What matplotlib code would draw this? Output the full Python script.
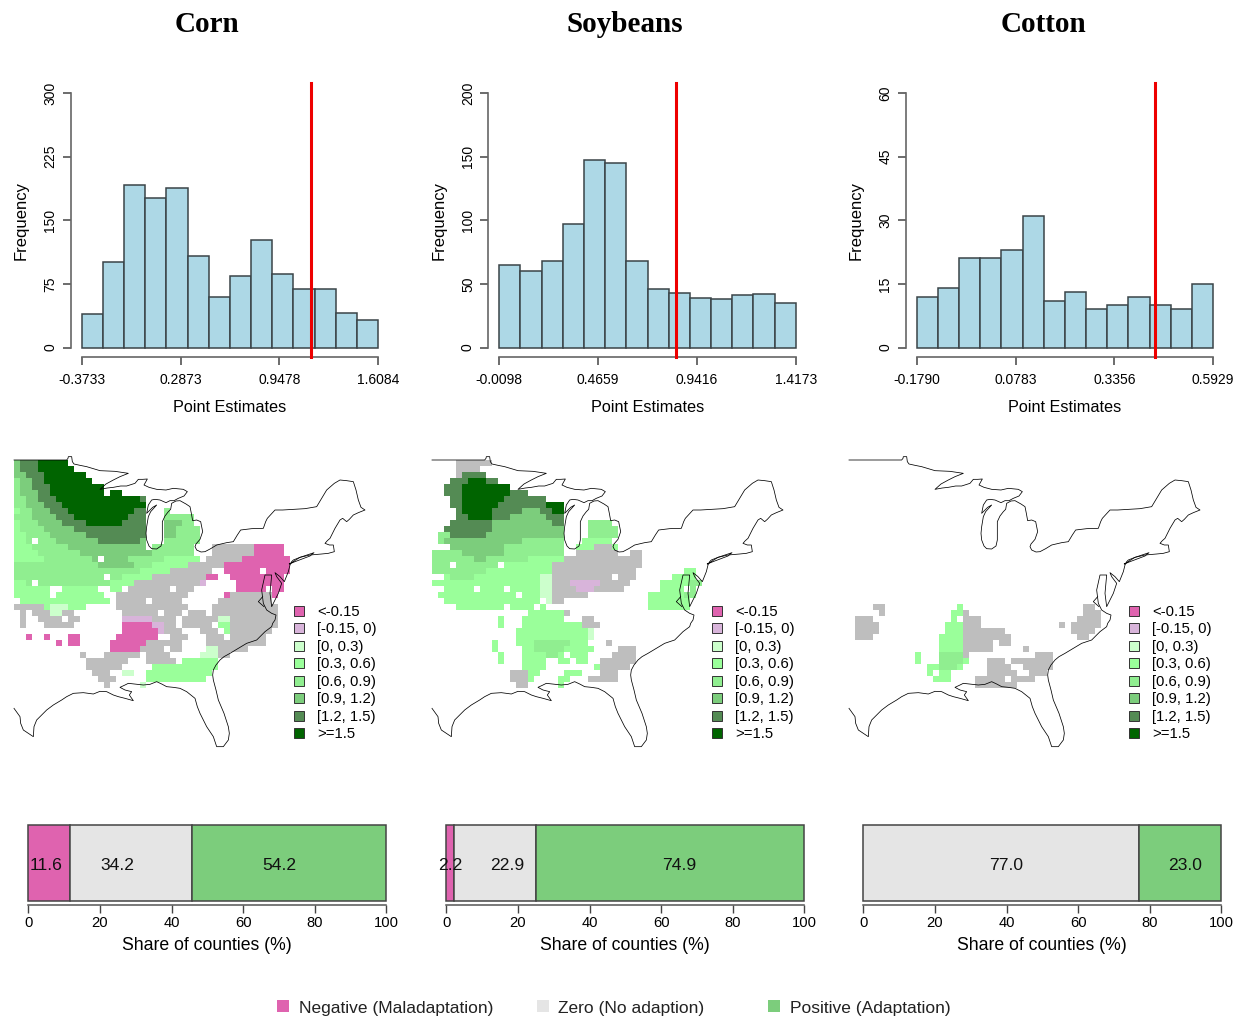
import matplotlib
matplotlib.use("Agg")
import numpy as np
import matplotlib.pyplot as plt
from matplotlib.colors import ListedColormap
from matplotlib.patches import Patch, Rectangle

plt.rcParams['font.family'] = ['Liberation Sans', 'DejaVu Sans']

W, H = 1238, 1018

# === data ===

crops = ["Corn", "Soybeans", "Cotton"]

corn_hist = [40, 101, 191, 176, 188, 108, 60, 84, 127, 87, 69, 69, 41, 32]
soy_hist = [65, 60, 68, 97, 147, 145, 68, 46, 43, 39, 38, 41, 42, 35]
cotton_hist = [12, 14, 21, 21, 23, 31, 11, 13, 9, 10, 12, 10, 9, 15]

corn_ticks = [-0.3733, 0.2873, 0.9478, 1.6084]
soy_ticks = [-0.0098, 0.4659, 0.9416, 1.4173]
cotton_ticks = [-0.1790, 0.0783, 0.3356, 0.5929]

corn_yticks = [0, 75, 150, 225, 300]
soy_yticks = [0, 50, 100, 150, 200]
cotton_yticks = [0, 15, 30, 45, 60]

red_lines = [1.162, 0.840, 0.442]

share_names = ["Negative (Maladaptation)", "Zero (No adaption)", "Positive (Adaptation)"]
corn_share = [11.6, 34.2, 54.2]
soy_share = [2.2, 22.9, 74.9]
cotton_share = [0.0, 77.0, 23.0]
share_label_x = [[5, 25, 70], [1, 17, 65], [None, 40, 90]]

legend_labels = ["<-0.15", "[-0.15, 0)", "[0, 0.3)", "[0.3, 0.6)", "[0.6, 0.9)",
                 "[0.9, 1.2)", "[1.2, 1.5)", ">=1.5"]
legend_colors = ["#DF63AF", "#D8B4DA", "#CCFFCC", "#9AFF9A", "#90EE90",
                 "#7CCD7C", "#548B54", "#006400"]
gray_zero = "#BEBEBE"
share_colors = ["#DF63AF", "#E5E5E5", "#7CCD7C"]

# map cells: one string per row, "start-end + class"; a-h legend classes, z = grey, . = hole
corn_map = [
    "0f 1-3g 4-8h",
    "0f 1-3g 4-9h",
    "0-1f 2-4g 5-11h",
    "0e 1-2f 3-4g 5-12h",
    "0e 1-2f 3-5g 6-14h",
    "0e 1-3f 4-5g 6-14h 16-17h",
    "0-1e 2-3f 4-6g 7-20h 21g",
    "0-1e 2-4f 5-7g 8-21h",
    "0d 1-2e 3-5f 6-8g 9-19h 20-21g 25e",
    "0-2e 3-6f 7-9g 10-18h 19-21g 25-29e",
    "0d 1-3e 4-7f 8-11g 12-17h 18-21g 25-27f 28-29e",
    "0d 1-4e 5-9f 10-21g 25-26f 27-30e",
    "0-1d 2-5e 6-11f 12-21g 25-26f 27-30e",
    "0-1d 2-6e 7-13f 14-20g 21f 25-30e 3.",
    "0-2d 3-8e 9-21f 23-29e 33-39z 40-44a",
    "0-3d 4-10e 11-22f 23-29e 33-39z 40-44a",
    "0-4d 5-12e 13-18f 19-24e 25-30d 32-37z 38-45a 14.",
    "0-13e 14-19f 20-22e 23-28d 29-34z 35-45a",
    "0-14e 15-20e 21-25d 26-32z 35-45a 41.",
    "0-17e 18-22d 23-31z 32-33a 36-42a 15. 43-44a",
    "0-1d 2-15e 16-19d 20-30z 31b 37-42a 3. 43-44a",
    "0-17d 19-29z 37-41a 43-44a 6-7. 14-15. 26.",
    "0-14d 17-28z 35a 36-42z 43a 6.",
    "1-15d 17-27z 34-42z 22.",
    "0-4z 5-11d 6-8c 17-28z 33-43z",
    "1z 3-5z 6-7c 8-9z 18-27z 29-31z 33-43z 24.",
    "1z 4-7z 9-10z 18-22b 23-26z 28-31z 32-33z 34-35c 36-43z",
    "1z 5-9z 18-22a 23-24b 25-26z 28-32z 34-35d 36-43z",
    "18-23a 24b 25-27z 31-33z 35d 36-42z",
    "2a 5a 9-10a 17-23a 26-28z 32-34z 36-41z",
    "7a 9-10a 16-21a 22-27z 32-41z",
    "16-20a 21-24z 26-27z 32-33c 34-38z",
    "11z 15-20z 22-25z 31-33c 34-35z",
    "12-18z 22-26z 28-33d",
    "12-17z 23-33d",
    "13-15z 18-19c 22-32d",
    "14-16z 22-31d",
    "15z 21c",
]

soy_map = [
    "4-9z",
    "4-7z",
    "4z 5-8g",
    "3-5g 6-8h 9-10g",
    "2-5g 5-9h 10-12h",
    "2-4g 5-12h 13-15g",
    "3-4g 5-11h 12-18g",
    "3-4g 5-10h 11-19g 19-21h",
    "4g 5-9h 10-14g 15-17f 18-21g 20-21h",
    "4-5g 6-9h 10-12g 13-18f 19-21g",
    "3-9g 10-19f 20-21g 26-29e",
    "2-9g 10-21f 26-30e",
    "1-2e 3-8g 9-21f 26-30e",
    "1-2e 2-14f 15-21e 25-29d",
    "3-11f 12-21e 24-26d 27-29z 30d",
    "0-4e 5-11f 12-21e 24-30z 33-34z",
    "0-6e 7-8f 9-15e 16-21d 22-34z",
    "0-11e 12-19d 20-34z 3. 11.",
    "0-8e 9-19d 20-33z 42-43d",
    "2d 3-6e 7-17d 18-19c 20-33z 30. 40-43d",
    "0-17d 18-19c 20-22z 23-27b 28-32z 38-42d 43-44e",
    "2-17d 18-19c 20-23z 24-26b 27-31z 38-41d 43e 7. 12.",
    "1-13d 15-17d 18-19c 20-25z 36-41d 42-43e",
    "2-17d 19c 20-21z 36-42d",
    "4-11d 13-16d 18d 36-42d",
    "16-21d 22z",
    "11d 15-21d 25-26z",
    "11d 15-21d 22-24d 25-27z",
    "14-26d 26c",
    "14-25d 26c",
    "10d 14-16d 17-22e 23-25d 29z",
    "10d 15-16d 17-21e 22-24d 25-26d 31-33z",
    "11d 15-19d 19-20e 21d 23-25d 30-33z",
    "11d 15-18d 21-22d 24-25d 28-33z",
    "15-18d 27d 28-32z",
    "13-15z 16-17d 22-24d 28-30z",
    "13-15z 16d 21-22d 26-30z",
    "14-15z 21d",
]

cotton_first_row = 24
cotton_map = [
    "4-5z 18d 39-40z",
    "5z 17-18d 19z 39-41z",
    "1-3z 17d 19-21z 38-41z",
    "1-4z 16-18d 19-21z 35z 37-41z",
    "1-4z 16-18d 19-20z 21-25z 37-40z",
    "1-3z 15-18d 19-21z 22-25z 26z 38-39z",
    "15-18d 19-21z 22-23z 25-26z",
    "15-18d 19-21z 22-23z 29z",
    "11d 15-18e 19z 31-33z",
    "11d 15-18e 19d 23-33z 26.",
    "13-18d 15-17e 23-33z 27-28.",
    "13d 15-16d 23-32z 28-29.",
    "14-16d 21-30z 26.",
    "21-27z",
]

# coast outline in map units
coast_x = [42, 200, 204, 205, 215, 217, 222, 240, 260, 300, 345, 385, 360, 340, 318, 300, 322, 340,
           362, 380, 405, 415, 428, 442, 432, 447, 470, 498, 520, 550, 562, 552, 535, 522, 510, 498,
           480, 465, 455, 445, 440, 458, 470, 452, 445, 440, 438, 440, 447, 455, 470, 483, 487, 487,
           495, 505, 512, 515, 528, 540, 558, 570, 574, 578, 590, 602, 608, 600, 588, 585, 590, 603,
           615, 632, 650, 680, 700, 712, 722, 755, 790, 797, 802, 825, 848, 880, 915, 950, 962, 980,
           1003, 1020, 1040, 1060, 1068, 1075, 1083, 1095, 1075, 1060, 1048, 1040, 1028, 1020, 1005,
           990, 982, 975, 988, 1000, 1003, 985, 965, 930, 900, 880, 875, 870, 865, 853, 840, 825, 830,
           845, 835, 815, 810, 815, 795, 785, 790, 800, 815, 828, 825, 818, 815, 795, 770, 755, 740,
           715, 690, 672, 660, 648, 640, 638, 640, 648, 655, 672, 685, 688, 685, 670, 650, 640, 620,
           610, 600, 592, 585, 560, 540, 520, 500, 485, 470, 450, 430, 412, 400, 385, 375, 360, 375,
           395, 388, 400, 375, 355, 340, 320, 300, 280, 250, 220, 200, 185, 160, 140, 125, 110, 102,
           100, 85, 70, 62, 60, 42]
coast_y = [30, 30, 25, 20, 20, 35, 42, 46, 50, 62, 64, 70, 80, 90, 102, 118, 114, 112, 108, 108, 100,
           88, 88, 87, 105, 112, 118, 120, 115, 118, 125, 138, 145, 152, 152, 158, 150, 148, 150, 165,
           190, 172, 165, 185, 200, 230, 250, 270, 288, 296, 297, 288, 270, 215, 198, 185, 178, 160,
           153, 152, 162, 170, 190, 212, 210, 215, 245, 268, 282, 290, 300, 306, 305, 296, 285, 278,
           275, 255, 240, 236, 235, 215, 205, 180, 180, 178, 176, 170, 150, 120, 100, 90, 92, 95, 120,
           150, 172, 180, 188, 195, 208, 215, 205, 210, 235, 265, 272, 280, 285, 285, 305, 310, 312,
           315, 322, 330, 335, 345, 365, 395, 380, 368, 380, 400, 430, 470, 430, 375, 375, 420, 460,
           480, 490, 495, 510, 520, 530, 545, 570, 575, 580, 595, 610, 620, 630, 645, 660, 675, 690,
           720, 750, 790, 830, 850, 870, 890, 890, 860, 830, 810, 790, 770, 745, 725, 715, 712, 710,
           702, 695, 703, 705, 703, 702, 700, 705, 712, 720, 725, 735, 752, 745, 740, 735, 725, 724,
           732, 728, 730, 740, 750, 765, 780, 795, 810, 830, 860, 850, 840, 820, 800, 775]
island_x = [868, 900, 942, 930, 885, 868]
island_y = [342, 322, 308, 318, 335, 342]
creek_x = [788, 775, 792]
creek_y = [440, 455, 470]


def px_axes(fig, left, top, right, bottom):
    return fig.add_axes([left / W, 1 - bottom / H, (right - left) / W, (bottom - top) / H])


def parse_cells(rows, first_row=0, nrows=40, ncols=48):
    letters = "abcdefghz"
    cells = np.full((nrows, ncols), -1)
    for r, row in enumerate(rows):
        for run in row.split():
            cls = run[-1]
            span = run[:-1].split("-")
            start, end = int(span[0]), int(span[-1])
            cells[r + first_row, start:end + 1] = letters.index(cls) if cls != "." else -1
    return np.ma.masked_equal(cells, -1)


def draw_hist(fig, off_l, off_r, counts, ticks, yticks, red):
    ax = px_axes(fig, off_l, 93, off_r, 347.5)
    edges = np.linspace(ticks[0], ticks[-1], len(counts) + 1)
    ax.bar(edges[:-1], counts, width=np.diff(edges), align='edge', color='#ADD8E6',
           edgecolor='#3a4448', linewidth=1.1, clip_on=False)
    ax.set_xlim(ticks[0], ticks[-1])
    ax.set_ylim(yticks[0], yticks[-1])
    for s in ['top', 'right']:
        ax.spines[s].set_visible(False)
    ax.spines['left'].set_position(('outward', 8))
    ax.spines['bottom'].set_position(('outward', 7))
    for s in ['left', 'bottom']:
        ax.spines[s].set_color('#666666')
        ax.spines[s].set_linewidth(1.2)
    ax.set_xticks(ticks)
    ax.set_xticklabels(["%.4f" % t for t in ticks], fontsize=10)
    ax.set_yticks(yticks)
    ax.set_yticklabels(yticks, rotation=90, va='center', fontsize=10)
    ax.tick_params(axis='x', length=5.5, width=1.1, color='#444444', pad=6)
    ax.tick_params(axis='y', length=6, width=1.1, color='#444444', pad=3.5)
    ax.set_xlabel("Point Estimates", fontsize=11.7, labelpad=9.5)
    ax.set_ylabel("Frequency", fontsize=12, labelpad=10.5)
    ax.axvline(red, ymin=-0.0385, ymax=1.04, color='#EE0000', lw=2.2, clip_on=False, zorder=5)


def draw_map(fig, off, rows, first_row=0):
    ax = px_axes(fig, off, 450, off + 400, 760)
    cells = parse_cells(rows, first_row)
    xe = 42 + 18 * np.arange(cells.shape[1] + 1)
    ye = 30 + 18 * np.arange(cells.shape[0] + 1)
    cmap = ListedColormap(legend_colors + [gray_zero])
    ax.pcolormesh(xe, ye, cells, cmap=cmap, vmin=-0.5, vmax=8.5, linewidth=0, antialiased=False)
    ax.plot(coast_x, coast_y, color='black', lw=0.55)
    ax.plot(island_x, island_y, color='black', lw=0.55)
    ax.plot(creek_x, creek_y, color='black', lw=0.55)
    ax.set_xlim(0, 1200)
    ax.set_ylim(930, 0)
    ax.axis('off')
    handles = [Patch(facecolor=c, edgecolor='#333333', linewidth=0.7) for c in legend_colors]
    ax.legend(handles, legend_labels, loc='upper left', bbox_to_anchor=(881, 465),
              bbox_transform=ax.transData, frameon=False, fontsize=10.7, labelspacing=0.235,
              handlelength=0.68, handleheight=0.68, handletextpad=0.9, borderpad=0, borderaxespad=0)


def draw_share(fig, off, shares, label_x):
    ax = px_axes(fig, off + 28.3, 825, off + 386.3, 900.5)
    left = 0
    for val, col, lx in zip(shares, share_colors, label_x):
        if val > 0:
            ax.barh(0, val, left=left, height=1, color=col, edgecolor='#444444', linewidth=1.1, clip_on=False)
            ax.text(lx, -0.03, "%.1f" % val, ha='center', va='center', fontsize=12.6, color='#111111')
        left += val
    ax.set_xlim(0, 100)
    ax.set_ylim(-0.5, 0.5)
    ax.set_yticks([])
    for s in ['top', 'right', 'left']:
        ax.spines[s].set_visible(False)
    ax.spines['bottom'].set_position(('outward', 3.5))
    ax.spines['bottom'].set_color('#555555')
    ax.spines['bottom'].set_linewidth(1.1)
    ax.set_xticks(range(0, 101, 20))
    ax.tick_params(axis='x', length=5.5, width=1.0, color='#444444', labelsize=10.6, pad=2.5)
    ax.set_xlabel("Share of counties (%)", fontsize=12.7, labelpad=5)


# === figure ===

fig = plt.figure(figsize=(W / 100, H / 100), dpi=100)

hist_data = [corn_hist, soy_hist, cotton_hist]
tick_data = [corn_ticks, soy_ticks, cotton_ticks]
ytick_data = [corn_yticks, soy_yticks, cotton_yticks]
hist_left = [81.7, 499.3, 916.7]
map_off = [0, 418, 835]
map_data = [(corn_map, 0), (soy_map, 0), (cotton_map, cotton_first_row)]
share_data = [corn_share, soy_share, cotton_share]
title_x = [207, 625, 1043]

for i in range(3):
    fig.text(title_x[i] / W, 1 - 24 / H, crops[i], ha='center', va='center',
             family='Liberation Serif', fontweight='bold', fontsize=21)
    draw_hist(fig, hist_left[i], hist_left[i] + 296.4, hist_data[i], tick_data[i], ytick_data[i], red_lines[i])
    draw_map(fig, map_off[i], map_data[i][0], map_data[i][1])
    draw_share(fig, map_off[i], share_data[i], share_label_x[i])

# bottom legend
key_x = [277, 537, 768]
text_x = [299, 558, 790]
for kx, tx, name, col in zip(key_x, text_x, share_names, share_colors):
    fig.add_artist(Rectangle((kx / W, 1 - 1012 / H), 12 / W, 12 / H, transform=fig.transFigure,
                             facecolor=col, edgecolor='none'))
    fig.text(tx / W, 1 - 1008.5 / H, name, ha='left', va='center', fontsize=12.5, color='#222222')

fig.savefig("out.png", dpi=100)
